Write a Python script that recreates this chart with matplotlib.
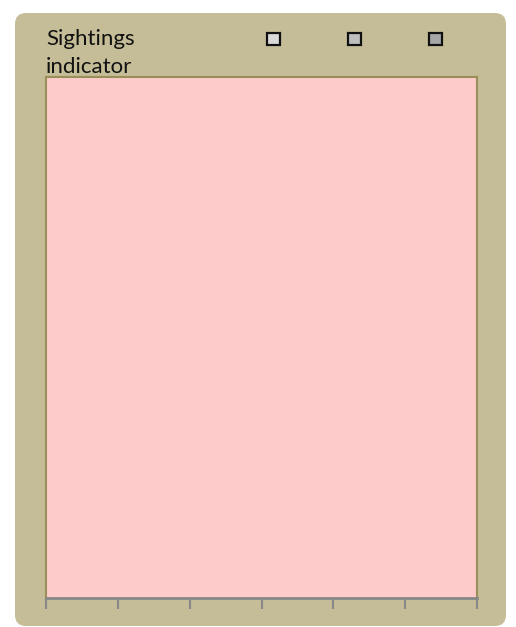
import matplotlib
matplotlib.use("Agg")
import matplotlib.pyplot as plt
from matplotlib.patches import FancyBboxPatch, Patch

W, H = 516, 627
PANEL, PLOT_BG, FRAME, AXIS = "#c5bd97", "#fdcbca", "#9a8f5a", "#888888"

# chart data: empty category axis, three unlabeled series (no values drawn)
categories = ["", "", "", "", "", ""]
series_names = ["", "", ""]
series_colors = ["#d9d9d9", "#bfbfbf", "#a6a6a6"]
series_values = [[], [], []]
title = "Sightings\nindicator"

plt.rcParams["font.family"] = ["Lato", "DejaVu Sans"]
fig = plt.figure(figsize=(W / 100, H / 100), dpi=100)

# backdrop: rounded tan panel, drawn in pixel coords
bg = fig.add_axes([0, 0, 1, 1])
bg.set_xlim(0, W); bg.set_ylim(H, 0); bg.axis("off")
bg.add_patch(FancyBboxPatch((15, 13), 491, 613, boxstyle="round,pad=0,rounding_size=11",
                            facecolor=PANEL, edgecolor="none"))

ax = fig.add_axes([46 / W, (H - 598) / H, 431 / W, 521 / H])
ax.set_facecolor(PLOT_BG)
n = len(categories)
for vals, c, nm in zip(series_values, series_colors, series_names):
    ax.bar(range(len(vals)), vals, color=c, label=nm)
ax.set_xlim(0, n)
ax.set_ylim(0, 1)
ax.set_xticks(range(n + 1))
ax.set_xticklabels([])
ax.set_yticks([])
ax.tick_params(axis="x", length=8, width=1.5, color=AXIS, direction="out")
for s in ("top", "left", "right"):
    ax.spines[s].set_color(FRAME)
    ax.spines[s].set_linewidth(1.5)
ax.spines["bottom"].set_color(AXIS)
ax.spines["bottom"].set_linewidth(2)

fig.text(46 / W, 1 - 29 / H, title, ha="left", va="top", fontsize=16,
         color="#111111", linespacing=1.5)

handles = [Patch(facecolor=c, edgecolor="#111111", linewidth=1.6) for c in series_colors]
fig.legend(handles, series_names, ncol=3, loc="center",
           bbox_to_anchor=(354.5 / W, 1 - 40 / H), frameon=False, fontsize=12.5,
           handlelength=0.75, handleheight=0.75, handletextpad=0, columnspacing=3.93)

fig.savefig("out.png", dpi=100)
